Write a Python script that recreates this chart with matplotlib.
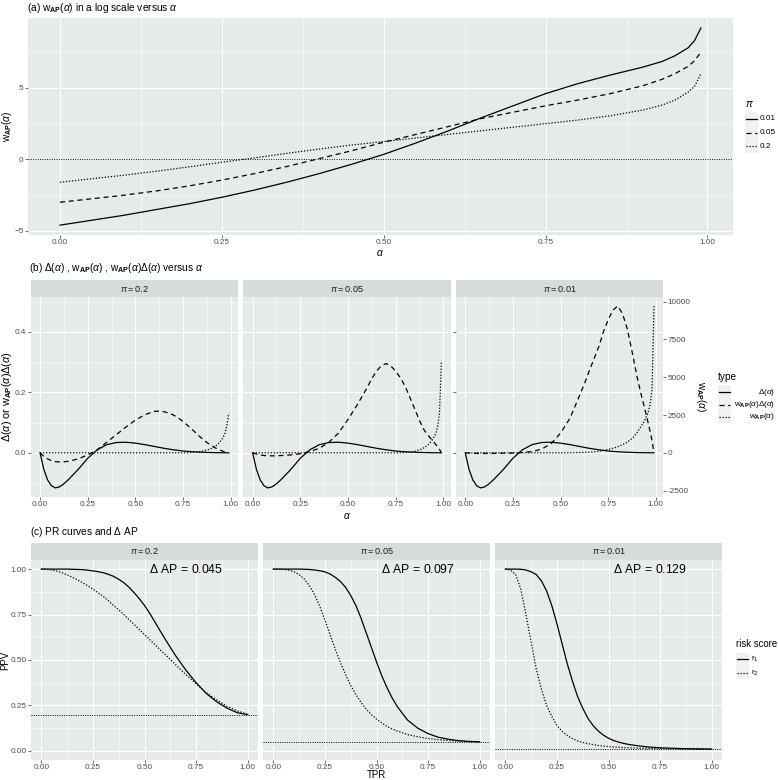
import matplotlib
matplotlib.use("Agg")
import matplotlib.pyplot as plt
from matplotlib.lines import Line2D
from matplotlib.patches import Rectangle

plt.rcParams["font.family"] = ["Liberation Sans", "DejaVu Sans"]
plt.rcParams["mathtext.fontset"] = "custom"
plt.rcParams["mathtext.rm"] = "Liberation Sans"
plt.rcParams["mathtext.it"] = "Liberation Sans:italic"
plt.rcParams["mathtext.bf"] = "Liberation Sans:bold"

# ---- panel (a): log w_AP(alpha) ----
alpha_a = [0, .05, .1, .15, .2, .25, .3, .35, .4, .45, .5, .55, .6, .65, .7,
           .75, .8, .85, .9, .93, .95, .97, .98, .99]
logw_001 = [-4.6, -4.25, -3.9, -3.5, -3.1, -2.65, -2.15, -1.6, -1.0, -0.35, 0.35, 1.15,
            2.0, 2.9, 3.75, 4.6, 5.3, 5.9, 6.45, 6.85, 7.25, 7.8, 8.3, 9.2]
logw_005 = [-3.0, -2.75, -2.5, -2.2, -1.85, -1.45, -1.0, -0.5, 0.05, 0.6, 1.2, 1.75,
            2.3, 2.85, 3.3, 3.75, 4.15, 4.6, 5.15, 5.6, 6.0, 6.5, 6.9, 7.5]
logw_02 = [-1.6, -1.35, -1.1, -0.82, -0.52, -0.2, 0.1, 0.42, 0.72, 1.0, 1.25, 1.5,
           1.75, 2.0, 2.25, 2.5, 2.75, 3.05, 3.45, 3.8, 4.15, 4.7, 5.1, 6.0]

# ---- panel (b): Delta, w*Delta, w/20000 ----
alpha_b = [0, .02, .04, .06, .08, .1, .12, .15, .2, .25, .3, .35, .4, .45, .5, .55,
           .6, .625, .65, .675, .7, .725, .75, .775, .8, .825, .85, .88, .9, .92, .94,
           .96, .97, .98, .99]
delta = [0, -0.055, -0.09, -0.109, -0.116, -0.113, -0.105, -0.088, -0.055, -0.018,
         0.01, 0.027, 0.034, 0.035, 0.032, 0.027, 0.021, 0.018, 0.015, 0.0125, 0.01,
         0.008, 0.006, 0.0047, 0.0035, 0.0026, 0.0018, 0.0012, 0.0008, 0.0005, 0.0003,
         0.0001, 0.0001, 0, 0]
wdelta_02 = [0, -0.012, -0.02, -0.026, -0.029, -0.03, -0.03, -0.028, -0.02, -0.007,
             0.01, 0.035, 0.06, 0.085, 0.108, 0.126, 0.137, 0.138, 0.136, 0.131, 0.125,
             0.115, 0.104, 0.09, 0.076, 0.061, 0.047, 0.032, 0.024, 0.016, 0.01, 0.005,
             0.003, 0.001, 0]
wdelta_005 = [0, -0.004, -0.007, -0.009, -0.01, -0.01, -0.01, -0.009, -0.007, -0.003,
              0.004, 0.015, 0.035, 0.065, 0.11, 0.16, 0.215, 0.245, 0.27, 0.288, 0.295,
              0.287, 0.27, 0.248, 0.22, 0.183, 0.145, 0.1, 0.075, 0.058, 0.043, 0.028,
              0.02, 0.012, 0]
wdelta_001 = [0, -0.001, -0.001, -0.002, -0.002, -0.002, -0.002, -0.002, -0.001, -0.001,
              0.001, 0.004, 0.012, 0.03, 0.065, 0.115, 0.19, 0.228, 0.27, 0.31, 0.35,
              0.4, 0.44, 0.472, 0.485, 0.46, 0.41, 0.32, 0.255, 0.2, 0.15, 0.098, 0.07,
              0.04, 0]
wscaled_02 = [0] * 24 + [0.002, 0.003, 0.005, 0.01, 0.015, 0.022, 0.033, 0.05, 0.065,
                         0.09, 0.131]
wscaled_005 = [0] * 24 + [0.001, 0.003, 0.005, 0.011, 0.017, 0.026, 0.04, 0.062, 0.085,
                          0.13, 0.298]
wscaled_001 = [0] * 16 + [0.001, 0.0015, 0.002, 0.003, 0.005, 0.008, 0.011, 0.015, 0.02,
                          0.027, 0.035, 0.05, 0.066, 0.085, 0.105, 0.135, 0.16, 0.21,
                          0.485]
sec_factor = 20000
sec_breaks = [-2500, 0, 2500, 5000, 7500, 10000]

# ---- panel (c): PR curves ----
tpr = [0, .025, .05, .075, .1, .125, .15, .175, .2, .225, .25, .275, .3, .325, .35,
       .375, .4, .425, .45, .475, .5, .525, .55, .575, .6, .65, .7, .75, .8, .85, .9,
       .95, 1.0]
ppv_r1_02 = [1, 1, 1, 1, 1, 1, .999, .998, .997, .994, .99, .986, .98, .971, .96,
             .944, .925, .9, .87, .837, .8, .757, .71, .662, .615, .525, .445, .375,
             .315, .27, .235, .21, .2]
ppv_r2_02 = [1, .999, .995, .989, .98, .968, .955, .941, .925, .908, .89, .87, .85,
             .826, .8, .776, .75, .722, .695, .667, .64, .612, .585, .557, .53, .475,
             .42, .37, .32, .28, .245, .22, .2]
ppv_r1_005 = [1, 1, 1, 1, 1, 1, .999, .998, .995, .991, .985, .973, .955, .932, .9,
              .855, .8, .73, .65, .57, .49, .415, .35, .293, .245, .17, .125, .095,
              .075, .064, .056, .052, .05]
ppv_r2_005 = [1, 1, .998, .994, .985, .97, .945, .908, .86, .795, .72, .64, .56, .487,
              .42, .36, .31, .267, .23, .2, .175, .154, .135, .121, .11, .09, .078,
              .068, .062, .057, .054, .052, .05]
ppv_r1_001 = [1, 1, 1, .999, .995, .985, .97, .935, .88, .8, .7, .59, .48, .385, .3,
              .235, .18, .14, .11, .087, .07, .057, .048, .041, .035, .027, .021, .017,
              .015, .013, .012, .011, .01]
ppv_r2_001 = [1, .995, .97, .89, .75, .6, .45, .34, .25, .19, .14, .108, .085, .068,
              .055, .047, .04, .035, .03, .027, .024, .022, .02, .018, .017, .015, .014,
              .013, .012, .011, .011, .01, .01]

pi_labels = ["0.2", "0.05", "0.01"]
pi_values = [0.2, 0.05, 0.01]
delta_ap = ["0.045", "0.097", "0.129"]

PANEL = "#E6EAE8"
STRIP = "#D6DCDA"
TICK_COL = "#4D4D4D"
W, H = 778, 780
LW = 0.9
DASH = (0, (4, 3))
DOT = (0, (1, 1.4))
TICK_FS = 5.9
AXT_FS = 7.2

fig = plt.figure(figsize=(W / 100, H / 100), dpi=100)


def add_ax(x0, y0, x1, y1):
    return fig.add_axes([x0 / W, 1 - y1 / H, (x1 - x0) / W, (y1 - y0) / H])


def ftext(x, y, s, **kw):
    fig.text(x / W, 1 - y / H, s, **kw)


def expand(values, frac=0.05):
    lo, hi = min(values), max(values)
    pad = (hi - lo) * frac
    return lo - pad, hi + pad


def style(ax, xmaj, xmin, ymaj, ymin):
    ax.set_facecolor(PANEL)
    for s in ax.spines.values():
        s.set_visible(False)
    ax.set_xticks(xmaj)
    ax.set_xticks(xmin, minor=True)
    ax.set_yticks(ymaj)
    ax.set_yticks(ymin, minor=True)
    ax.grid(which="major", color="white", lw=0.8)
    ax.grid(which="minor", color="white", lw=0.4)
    ax.set_axisbelow(True)
    ax.tick_params(which="major", length=2, width=0.5, color="#333333",
                   labelsize=TICK_FS, labelcolor=TICK_COL, pad=1.2)
    ax.tick_params(which="minor", length=0)


def strip(x0, x1, y0, y1, label):
    sa = add_ax(x0, y0, x1, y1)
    sa.set_facecolor(STRIP)
    sa.set_xticks([])
    sa.set_yticks([])
    for s in sa.spines.values():
        s.set_visible(False)
    sa.text(0.5, 0.5, label, ha="center", va="center", fontsize=6.6,
            color="#1A1A1A", transform=sa.transAxes)


def legend(x, y, title, entries, label_x=None, right=False, step=13.5, title_fs=7.3):
    ftext(x, y, title, fontsize=title_fs, va="center", ha="left")
    for i, (ls, lab) in enumerate(entries):
        yy = y + 15 + i * step
        fig.add_artist(Rectangle((x / W, 1 - (yy + 6.5) / H), 13 / W, 13 / H,
                                 transform=fig.transFigure, color="#F0F2F1", lw=0))
        fig.add_artist(Line2D([(x + 1) / W, (x + 12) / W], [1 - yy / H, 1 - yy / H],
                              transform=fig.transFigure, color="black", lw=LW, ls=ls))
        if right:
            ftext(label_x, yy, lab, fontsize=TICK_FS, va="center", ha="right")
        else:
            ftext(x + 15, yy, lab, fontsize=TICK_FS, va="center", ha="left")


wap = r"$\mathrm{w}_{\mathbf{AP}}(\alpha)$"

# ---------------- panel (a) ----------------
ax = add_ax(28, 18, 733, 235)
ax.plot(alpha_a, logw_001, color="black", lw=LW, ls="-")
ax.plot(alpha_a, logw_005, color="black", lw=LW, ls=DASH)
ax.plot(alpha_a, logw_02, color="black", lw=LW, ls=DOT)
ax.axhline(0, color="black", lw=0.7, ls=DOT)
style(ax, [0, .25, .5, .75, 1], [.125, .375, .625, .875], [-5, 0, 5], [-2.5, 2.5, 7.5])
ax.set_xlim(expand(alpha_a))
ax.set_ylim(expand(logw_001 + logw_005 + logw_02))
ax.set_xticklabels(["0.00", "0.25", "0.50", "0.75", "1.00"])
ftext(380, 253, r"$\alpha$", fontsize=AXT_FS, ha="center", va="center")
ftext(7, 126, wap, fontsize=AXT_FS, rotation=90, ha="center", va="center")
ftext(27, 8, r"(a) $\mathrm{w}_{\mathbf{AP}}(\alpha)$ in a log scale versus $\alpha$",
      fontsize=7.3, va="center")
legend(745, 104, r"$\pi$", [("-", "0.01"), (DASH, "0.05"), (DOT, "0.2")])

# ---------------- panel (b) ----------------
ftext(29, 268, r"(b) $\Delta(\alpha)$ , $\mathrm{w}_{\mathbf{AP}}(\alpha)$ , "
      r"$\mathrm{w}_{\mathbf{AP}}(\alpha)\Delta(\alpha)$ versus $\alpha$",
      fontsize=7.3, va="center")
b_pos = [(30.6, 238.2), (243.2, 450.8), (455.8, 663.4)]
wdelta_all = [wdelta_02, wdelta_005, wdelta_001]
wscaled_all = [wscaled_02, wscaled_005, wscaled_001]
b_ylim = expand(delta + wdelta_02 + wdelta_005 + wdelta_001
                + wscaled_02 + wscaled_005 + wscaled_001)
for i, (x0, x1) in enumerate(b_pos):
    ax = add_ax(x0, 297, x1, 497)
    ax.plot(alpha_b, delta, color="black", lw=LW, ls="-")
    ax.plot(alpha_b, wdelta_all[i], color="black", lw=LW, ls=DASH)
    ax.plot(alpha_b, wscaled_all[i], color="black", lw=LW, ls=DOT)
    style(ax, [0, .25, .5, .75, 1], [.125, .375, .625, .875],
          [0, 0.2, 0.4], [-0.1, 0.1, 0.3, 0.5])
    ax.set_xlim(expand(alpha_b))
    ax.set_ylim(b_ylim)
    ax.set_xticklabels(["0.00", "0.25", "0.50", "0.75", "1.00"])
    ax.set_yticklabels(["0.0", "0.2", "0.4"])
    if i > 0:
        ax.tick_params(axis="y", which="both", left=False, labelleft=False)
    if i == 2:
        tw = ax.twinx()
        tw.set_ylim(b_ylim[0] * sec_factor, b_ylim[1] * sec_factor)
        tw.set_yticks(sec_breaks)
        tw.set_yticklabels([str(v) for v in sec_breaks])
        for s in tw.spines.values():
            s.set_visible(False)
        tw.tick_params(length=2, width=0.5, color="#333333", labelsize=TICK_FS,
                       labelcolor=TICK_COL, pad=1.2)
    strip(x0, x1, 280, 297, r"$\pi = $" + pi_labels[i])
ftext(7, 397, r"$\Delta(\alpha)$ or $\mathrm{w}_{\mathbf{AP}}(\alpha)\Delta(\alpha)$",
      fontsize=7.8, rotation=90, ha="center", va="center")
ftext(347, 516, r"$\alpha$", fontsize=AXT_FS, ha="center", va="center")
ftext(701, 397, wap, fontsize=AXT_FS, rotation=-90, ha="center", va="center")
legend(718, 377, "type", [("-", r"$\Delta(\alpha)$"),
                          (DASH, r"$\mathrm{w}_{\mathbf{AP}}(\alpha)\Delta(\alpha)$"),
                          (DOT, wap)], label_x=775, right=True, step=12.5)

# ---------------- panel (c) ----------------
ftext(30, 532, r"(c) PR curves and $\Delta$ AP", fontsize=7.3, va="center")
c_pos = [(31, 258), (263, 490), (495, 722)]
r1_all = [ppv_r1_02, ppv_r1_005, ppv_r1_001]
r2_all = [ppv_r2_02, ppv_r2_005, ppv_r2_001]
c_ylim = expand(ppv_r1_02 + ppv_r2_02 + [0, 1])
for i, (x0, x1) in enumerate(c_pos):
    ax = add_ax(x0, 560, x1, 760)
    ax.plot(tpr, r1_all[i], color="black", lw=LW, ls="-")
    ax.plot(tpr, r2_all[i], color="black", lw=LW, ls=DOT)
    ax.axhline(pi_values[i], color="black", lw=0.7, ls=DOT)
    style(ax, [0, .25, .5, .75, 1], [.125, .375, .625, .875],
          [0, .25, .5, .75, 1], [.125, .375, .625, .875])
    ax.set_xlim(expand(tpr))
    ax.set_ylim(c_ylim)
    ax.set_xticklabels(["0.00", "0.25", "0.50", "0.75", "1.00"])
    ax.set_yticklabels(["0.00", "0.25", "0.50", "0.75", "1.00"])
    ax.text(0.7, 1.0, r"$\Delta$ AP$\,=\,$" + delta_ap[i], ha="center", va="center",
            fontsize=8.7)
    if i > 0:
        ax.tick_params(axis="y", which="both", left=False, labelleft=False)
    strip(x0, x1, 543, 560, r"$\pi = $" + pi_labels[i])
ftext(5, 660, "PPV", fontsize=7, rotation=90, ha="center", va="center")
ftext(376, 775.5, "TPR", fontsize=7, ha="center", va="center")
legend(736, 644, "risk score", [("-", r"$\mathrm{r}_1$"), (DOT, r"$\mathrm{r}_2$")],
       title_fs=6.9)

fig.savefig("out.png", dpi=100)
